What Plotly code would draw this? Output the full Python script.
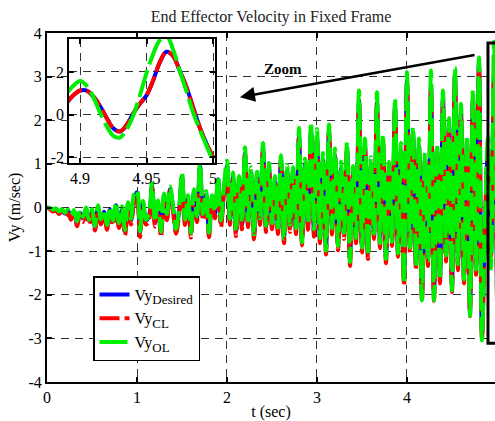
import plotly.graph_objects as go

# ---------------- data ----------------
vy_desired = [
    0.00, -0.02, -0.06, -0.04, -0.10, -0.06, -0.14, -0.08, -0.20, -0.10,
    -0.35, -0.12, -0.25, -0.05, -0.30, -0.10, -0.44, -0.02, -0.30, -0.10,
    -0.42, -0.05, -0.32, 0.05, -0.38, -0.05, -0.55, 0.05, -0.30, 0.15,
    0.35, -0.58, 0.10, -0.30, -0.20, 0.50, -0.35, 0.10, -0.58, 0.25,
    -0.20, 0.42, 0.00, -0.50, -0.10, 0.72, -0.30, 0.20, -0.58, 0.35,
    -0.25, 0.95, -0.20, 0.30, -0.58, 0.20, -0.15, 0.65, -0.35, 0.40,
    0.95, -0.30, 0.70, -0.55, 0.60, -0.40, 1.25, -0.35, 0.80, -0.62,
    0.70, -0.30, 1.35, -0.45, 0.90, -0.40, 0.60, -0.50, 1.10, -0.70,
    0.85, -0.45, 0.80, -0.50, 1.65, -0.75, 1.00, -0.40, 1.75, -0.55,
    1.60, -0.70, 1.10, -0.95, 1.75, -0.50, 1.20, -0.85, 0.90, -0.60,
    1.35, -1.20, 0.80, -0.70, 2.45, -0.90, 1.40, -1.05, 1.00, -0.60,
    2.40, -0.80, 1.50, -1.15, 0.90, -0.75, 2.30, -1.00, 1.30, -1.65,
    2.90, -0.90, 1.70, -1.30, 1.40, -2.00, 1.10, -1.20, 2.80, -2.00,
    1.30, -1.60, 2.50, -1.10, 1.90, -1.80, 3.05, -1.30, 2.20, -1.60,
    1.50, -2.35, 2.50, -1.40, 3.30, -2.90, -0.40, 1.30, -1.10, 3.00,
    -2.10,
]
vy_cl = [
    0.00, -0.04, -0.09, -0.07, -0.15, -0.10, -0.20, -0.13, -0.28, -0.15,
    -0.43, -0.16, -0.33, -0.10, -0.39, -0.14, -0.53, -0.07, -0.39, -0.15,
    -0.51, -0.10, -0.41, -0.02, -0.47, -0.10, -0.64, -0.02, -0.39, 0.10,
    0.30, -0.68, 0.04, -0.39, -0.29, 0.45, -0.44, 0.04, -0.68, 0.20,
    -0.29, 0.38, -0.08, -0.60, -0.19, 0.68, -0.40, 0.14, -0.69, 0.30,
    -0.34, 0.90, -0.30, 0.25, -0.68, 0.14, -0.25, 0.60, -0.45, 0.35,
    0.90, -0.40, 0.65, -0.66, 0.55, -0.50, 1.20, -0.45, 0.75, -0.73,
    0.65, -0.40, 1.30, -0.56, 0.85, -0.50, 0.55, -0.61, 1.05, -0.82,
    0.80, -0.56, 0.75, -0.61, 1.60, -0.87, 0.95, -0.51, 1.70, -0.67,
    1.55, -0.82, 1.05, -1.08, 1.70, -0.62, 1.15, -0.98, 0.85, -0.72,
    1.30, -1.34, 0.75, -0.82, 2.40, -1.03, 1.35, -1.18, 0.95, -0.72,
    2.35, -0.93, 1.45, -1.28, 0.85, -0.88, 2.25, -1.13, 1.25, -1.79,
    2.85, -1.04, 1.65, -1.44, 1.35, -2.14, 1.05, -1.34, 2.73, -2.14,
    1.25, -1.74, 2.45, -1.24, 1.85, -1.94, 3.00, -1.44, 2.15, -1.74,
    1.45, -2.49, 2.45, -1.54, 3.25, -3.02, -0.45, 1.28, -1.12, 3.02,
    -2.05,
]
vy_ol = [
    0.00, -0.01, -0.05, -0.02, -0.09, -0.04, -0.12, -0.05, -0.18, -0.06,
    -0.32, -0.06, -0.22, 0.00, -0.28, -0.04, -0.42, 0.05, -0.27, -0.05,
    -0.40, 0.02, -0.30, 0.12, -0.36, 0.03, -0.52, 0.12, -0.26, 0.30,
    0.40, -0.55, 0.15, -0.28, -0.15, 0.56, -0.32, 0.16, -0.56, 0.32,
    -0.15, 0.48, 0.05, -0.50, -0.05, 0.80, -0.28, 0.28, -0.58, 0.42,
    -0.20, 1.02, -0.15, 0.38, -0.58, 0.28, -0.10, 0.72, -0.30, 0.50,
    1.08, -0.26, 0.80, -0.55, 0.72, -0.35, 1.38, -0.30, 0.92, -0.62,
    0.82, -0.25, 1.48, -0.42, 1.02, -0.36, 0.72, -0.46, 1.20, -0.72,
    0.98, -0.40, 0.92, -0.48, 1.82, -0.80, 1.12, -0.36, 1.95, -0.50,
    1.80, -0.70, 1.25, -0.99, 1.90, -0.48, 1.35, -0.88, 1.05, -0.58,
    1.50, -1.25, 0.95, -0.70, 2.68, -0.92, 1.58, -1.10, 1.15, -0.60,
    2.64, -0.82, 1.68, -1.18, 1.05, -0.78, 2.50, -1.05, 1.48, -1.75,
    3.10, -0.92, 1.85, -1.35, 1.58, -2.13, 1.25, -1.22, 3.14, -2.13,
    1.45, -1.65, 2.68, -1.10, 2.05, -1.90, 3.20, -1.30, 2.38, -1.65,
    1.65, -2.48, 2.70, -1.42, 3.44, -3.05, -0.30, 1.60, -1.40, 3.80,
    -2.20,
]
# sampling grid of the main signal (s)
time_s = [round(i / 30, 4) for i in range(len(vy_desired))]

# zoomed window 4.89 .. 5.0 s
zoom_t = [4.890, 4.895, 4.900, 4.905, 4.910, 4.915, 4.920, 4.925, 4.930, 4.935,
          4.940, 4.945, 4.950, 4.955, 4.960, 4.965, 4.970, 4.975, 4.980, 4.985,
          4.990, 4.995, 5.000]
zoom_desired = [0.55, 0.90, 1.12, 1.12, 0.85, 0.40, -0.15, -0.65, -0.80, -0.50,
                0.05, 0.50, 0.90, 1.60, 2.45, 2.95, 2.75, 2.05, 1.30, 0.35,
                -0.60, -1.35, -2.00]
zoom_cl = [0.56, 0.91, 1.13, 1.12, 0.84, 0.39, -0.16, -0.66, -0.80, -0.49,
           0.06, 0.51, 0.91, 1.61, 2.46, 2.96, 2.74, 2.04, 1.29, 0.34,
           -0.61, -1.36, -2.01]
zoom_ol = [1.00, 1.35, 1.57, 1.35, 0.82, 0.10, -0.55, -1.00, -1.08, -0.70,
           -0.05, 0.90, 1.95, 2.85, 3.50, 3.70, 3.05, 2.05, 1.10, 0.10,
           -0.70, -1.45, -2.20]

x_tickvals = [0, 1, 2, 3, 4, 5]
x_ticktext = ["0", "1", "2", "3", "4", "5"]
y_tickvals = [-4, -3, -2, -1, 0, 1, 2, 3, 4]
y_ticktext = ["-4", "-3", "-2", "-1", "0", "1", "2", "3", "4"]
zx_tickvals = [4.9, 4.95, 5.0]
zx_ticktext = ["4.9", "4.95", "5"]
zy_tickvals = [-2, 0, 2]
zy_ticktext = ["-2", "0", "2"]

series_names = ['Vy<sub><span style="font-size:13px">Desired</span></sub>',
                'Vy<sub><span style="font-size:13px">CL</span></sub>',
                'Vy<sub><span style="font-size:13px">OL</span></sub>']
series_colors = ["#0000ff", "#ff0000", "#00ee00"]

FONT = "Liberation Serif, Times New Roman, Times, serif"

fig = go.Figure()

main_sets = [vy_desired, vy_cl, vy_ol]
zoom_sets = [zoom_desired, zoom_cl, zoom_ol]
dashes = ["solid", "20px,5px", "28px,6px"]

for name, col, ys, dash in zip(series_names, series_colors, main_sets, dashes):
    fig.add_trace(go.Scatter(
        x=time_s, y=ys, mode="lines", name=name,
        line=dict(color=col, width=4, dash=dash, shape="spline"),
        xaxis="x", yaxis="y", hoverinfo="skip",
    ))

for name, col, ys, dash in zip(series_names, series_colors, zoom_sets, dashes):
    fig.add_trace(go.Scatter(
        x=zoom_t, y=ys, mode="lines", name=name, showlegend=False,
        line=dict(color=col, width=4, dash=dash, shape="spline"),
        xaxis="x2", yaxis="y2", hoverinfo="skip",
    ))

grid = dict(showgrid=True, gridcolor="#333333", gridwidth=1, griddash="8px,6px",
            zeroline=False, showline=True, linecolor="black",
            ticks="inside", ticklen=5, tickcolor="black", tickwidth=1.5)

fig.update_layout(
    width=495, height=421,
    margin=dict(l=47, r=0, t=33, b=39),
    paper_bgcolor="white", plot_bgcolor="white",
    font=dict(family=FONT, size=16, color="black"),
    title=dict(text="End Effector Velocity in Fixed Frame", x=0.5, xref="paper",
               xanchor="center", y=1 - 16 / 421, yref="container", yanchor="middle",
               font=dict(family=FONT, size=16, color="#222222")),
    xaxis=dict(domain=[0, 1], range=[0, 4.978], tickvals=x_tickvals, ticktext=x_ticktext,
               linewidth=2, mirror="ticks", automargin=False,
               title=dict(text="t (sec)", standoff=6, font=dict(family=FONT, size=16)),
               **grid),
    yaxis=dict(domain=[0, 1], range=[-4, 4], tickvals=y_tickvals, ticktext=y_ticktext,
               linewidth=2, mirror=False, automargin=False,
               title=dict(text="Vy (m/sec)", standoff=4, font=dict(family=FONT, size=16)),
               **grid),
    xaxis2=dict(domain=[0.0491, 0.375], anchor="y2", range=[4.8917, 5.0015],
                tickvals=zx_tickvals, ticktext=zx_ticktext, linewidth=1.5,
                mirror="allticks", automargin=False, **grid),
    yaxis2=dict(domain=[0.6275, 0.9828], anchor="x2", range=[-2.28, 3.55],
                tickvals=zy_tickvals, ticktext=zy_ticktext, linewidth=1.5,
                mirror="allticks", automargin=False, **grid),
    legend=dict(x=0.1027, y=0.3037, xanchor="left", yanchor="top",
                bgcolor="white", bordercolor="black", borderwidth=1.5,
                font=dict(family=FONT, size=16, color="black")),
    shapes=[dict(type="rect", xref="x", yref="y", x0=4.9, x1=5.1, y0=-3.11, y1=3.77,
                 line=dict(color="black", width=3), layer="above")],
    annotations=[
        dict(x=2.144, y=2.53, xref="x", yref="y", ax=4.767, ay=3.50, axref="x", ayref="y",
             showarrow=True, arrowhead=2, arrowsize=1.2, arrowwidth=2.5,
             arrowcolor="black", text=""),
        dict(x=2.62, y=3.17, xref="x", yref="y", text="<b>Zoom</b>", showarrow=False,
             font=dict(family=FONT, size=15, color="black")),
    ],
)

fig.write_html("out.html")
